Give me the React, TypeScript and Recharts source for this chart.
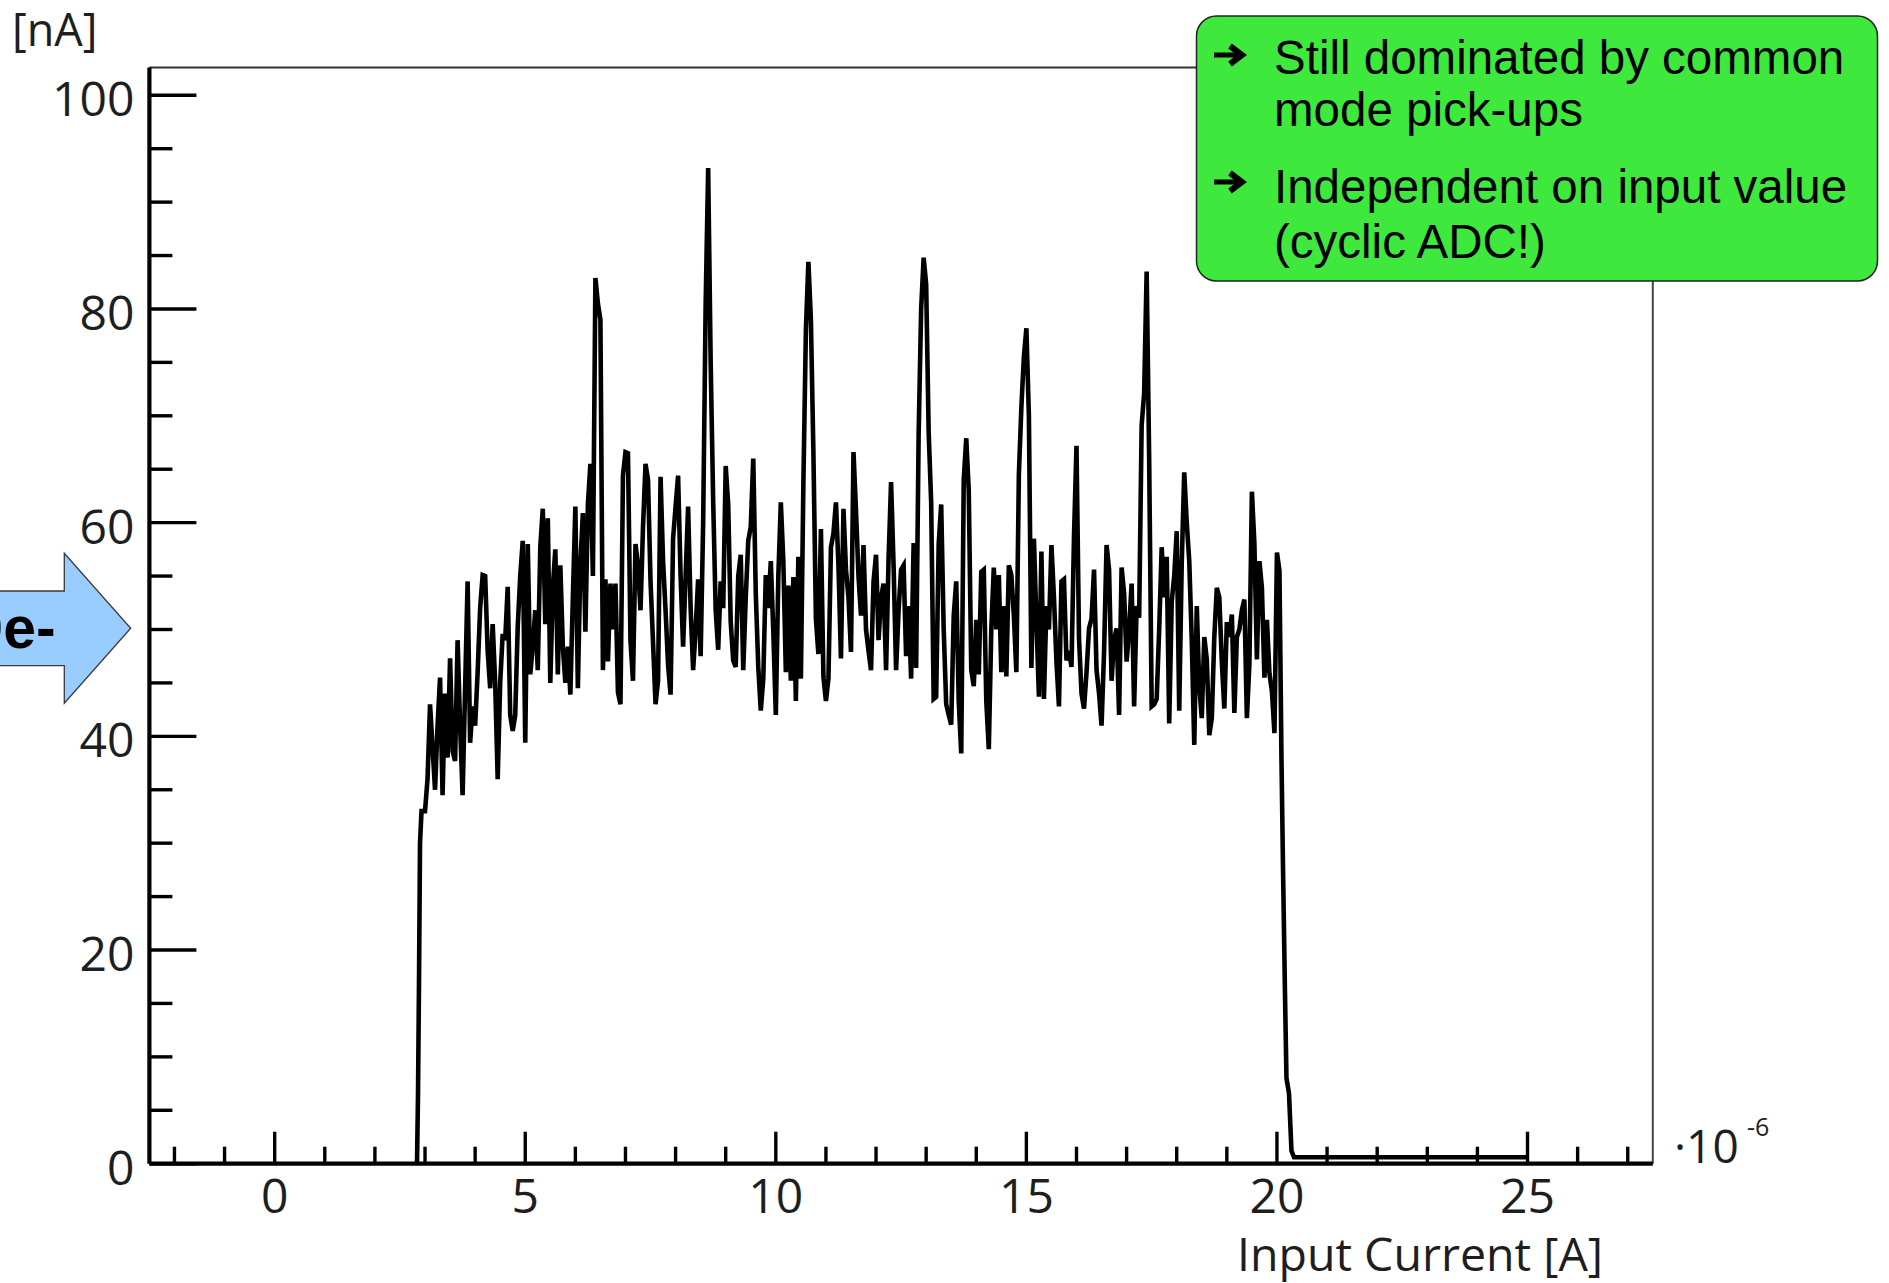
import React from 'react';
import { ComposedChart, Line, XAxis, YAxis, ReferenceLine } from 'recharts';

// Input current in units of 1e-6 A, noise in nA
const xDomain = [-2.5, 27.5];
const yDomain = [0, 102.6];
const xTicks = [-2, -1, 0, 1, 2, 3, 4, 5, 6, 7, 8, 9, 10, 11, 12, 13, 14, 15, 16, 17, 18, 19, 20, 21, 22, 23, 24, 25, 26, 27];
const yTicks = [0, 5, 10, 15, 20, 25, 30, 35, 40, 45, 50, 55, 60, 65, 70, 75, 80, 85, 90, 95, 100];

// rise at the start of the scan
const leadX = [2.84, 2.86, 2.88, 2.9, 2.93, 2.97];
const leadY = [0, 6.5, 17, 30, 33, 33];

// sampled trace, first sample at 3.00, one sample every 0.05
const noiseStart = 3.0;
const noiseStep = 0.05;

// 3.00 .. 8.45
const noiseA = [
  33, 36, 43, 39, 35, 41, 45.5, 34.5, 44, 38,
  47.3, 38.6, 37.7, 49, 41, 34.5, 44.5, 54.5, 39.4, 42.8,
  41, 46, 52, 55.1, 55, 48, 44.5, 50.5, 45, 36,
  45, 49.6, 49, 54, 42, 40.5, 42, 50.3, 55, 58.3,
  39.4, 58, 45.8, 48.4, 51.8, 46.2, 57.7, 61.3, 50.5, 60.4,
  45, 53.9, 57.5, 45.8, 56, 48.4, 45, 48.4, 43.9, 53,
  61.5, 44.5, 56.2, 60.9, 49.8, 61.7, 65.5, 55, 82.9, 80.5,
  79, 46.2, 54.7, 47, 54.3, 50, 54.3, 44.1, 43, 64.4,
  66.6, 66.5, 49, 45.2, 58, 56, 51.8, 59.6, 65.5, 64,
  54.5, 48.8, 43, 45.2, 64.3, 56.4, 51.8, 46.7, 43.9, 58.5,
  61.5, 64.4, 55, 48.4, 55, 61.5, 52, 46.2, 50, 54.7,
];

// 8.50 .. 14.35
const noiseB = [
  47.5, 60, 80.5, 93.2, 75, 62, 51.8, 48.1, 54.5, 52,
  65.3, 61.7, 50.7, 47.1, 46.5, 55, 57, 46.2, 53, 58.3,
  59.6, 66, 53.4, 46.5, 42.4, 45.4, 55.1, 52, 56.4, 49.8,
  42, 55, 61.9, 56.4, 46, 54.1, 45.2, 54.9, 43.3, 56.8,
  45.4, 63.6, 78, 84.4, 79, 66.6, 51, 47.7, 59.4, 45.6,
  43.3, 45.4, 57.7, 59, 61.9, 56, 47.3, 61.3, 55.6, 53,
  47.9, 66.6, 61.1, 55, 51.3, 57.9, 50, 48, 46.2, 54.5,
  57, 49, 53, 54.3, 46.2, 56.6, 63.8, 56, 46.2, 51.8,
  55.6, 56, 47.5, 52.2, 45.4, 58.1, 46.4, 68.3, 80, 84.8,
  82.3, 68.5, 61.9, 43.5, 43.7, 58, 61.7, 50, 43, 42,
  41.1, 51.3, 54.5, 43.3, 38.4, 64, 67.9, 63, 46.2, 44.7,
  50.9, 45.8, 55.4, 55.6, 43.3, 38.8, 50, 55.8,
];

// 14.40 .. 20.05
const noiseC = [
  50, 55.1, 46, 52.2, 45.6, 56, 55.1, 51.3, 46, 64.5,
  70.8, 75.5, 78.2, 70, 46.4, 58.5, 50.9, 43.7, 57.3, 43.5,
  52.2, 50, 57.9, 53, 47, 42.8, 54.5, 54.7, 47.1, 48,
  46.5, 58.7, 67.2, 49.2, 44, 42.6, 46, 50.1, 51, 55.6,
  46.2, 44, 41, 47.9, 57.9, 55.6, 45.2, 49, 50.1, 42,
  55.8, 53.4, 47, 50, 54.3, 42.8, 52.2, 51.1, 69.1, 72.1,
  83.5, 66, 42.8, 43, 43.5, 50, 57.7, 53, 56.8, 41.2,
  52.6, 55, 59.2, 42.4, 56.2, 64.7, 60, 56.4, 49, 39.2,
  52.2, 44.7, 41.7, 49.3, 47.2, 40.1, 41.7, 49.3, 53.9, 53,
  47, 42.6, 50.7, 49.3, 51.4, 42.2, 49.3, 50, 51.8, 52.8,
  41.7, 46.8, 62.9, 58, 47.2, 56.4, 53.9, 45.5, 50.9, 45.9,
  44.2, 40.3, 57.2, 55.5,
];

// fall at the end and the flat part after it
const tailX = [20.09, 20.12, 20.16, 20.19, 20.24, 20.29, 20.34, 25.0];
const tailY = [38, 28, 16, 8, 6.6, 1.2, 0.6, 0.6];

const noise = [...noiseA, ...noiseB, ...noiseC];
const data = [
  ...leadX.map((x, i) => ({ x, y: leadY[i] })),
  ...noise.map((y, i) => ({ x: +(noiseStart + i * noiseStep).toFixed(2), y })),
  ...tailX.map((x, i) => ({ x, y: tailY[i] })),
];

const labelFont = '"Open Sans", "DejaVu Sans", sans-serif';
const boxFont = '"Liberation Sans", Arial, sans-serif';

const XTick = (props: any) => {
  const { x, y, payload } = props;
  const v = payload.value;
  const major = v % 5 === 0;
  return (
    <g>
      <line x1={x} x2={x} y1={y} y2={y - (major ? 32 : 17)} stroke="#000" strokeWidth={3.4} />
      {major && (
        <text x={x} y={y + 49} textAnchor="middle" fontFamily={labelFont} fontSize={48} fill="#1e1e1e">
          {v}
        </text>
      )}
    </g>
  );
};

const YTick = (props: any) => {
  const { x, y, payload } = props;
  const v = payload.value;
  const major = v % 20 === 0;
  return (
    <g>
      <line x1={x} x2={x + (major ? 47 : 23)} y1={y} y2={y} stroke="#000" strokeWidth={3.4} />
      {major && (
        <text x={x - 15} y={y + 21} textAnchor="end" fontFamily={labelFont} fontSize={48} fill="#1e1e1e">
          {v}
        </text>
      )}
    </g>
  );
};

// bold right-arrow bullet, centred at (cx, cy)
const Bullet = ({ cx, cy }: { cx: number; cy: number }) => (
  <g stroke="#000" fill="none" strokeLinecap="butt">
    <line x1={cx - 15} y1={cy} x2={cx + 10} y2={cy} strokeWidth={5} />
    <polyline points={`${cx + 1},${cy - 9} ${cx + 13},${cy} ${cx + 1},${cy + 9}`} strokeWidth={6} strokeLinejoin="miter" />
  </g>
);

export default function App() {
  return (
    <div style={{ position: 'absolute', left: 0, top: 0, width: 1889, height: 1283, background: '#fff' }}>
      <ComposedChart
        width={1889}
        height={1283}
        data={data}
        margin={{ top: 67.5, right: 236.2, bottom: 59.3, left: 49.4 }}
      >
        <XAxis
          dataKey="x"
          type="number"
          domain={xDomain}
          ticks={xTicks}
          interval={0}
          allowDataOverflow
          height={60}
          tickSize={0}
          tickMargin={0}
          tickLine={false}
          tick={XTick}
          axisLine={{ stroke: '#000', strokeWidth: 4.2 }}
        />
        <YAxis
          type="number"
          domain={yDomain}
          ticks={yTicks}
          interval={0}
          allowDataOverflow
          width={100}
          tickSize={0}
          tickMargin={0}
          tickLine={false}
          tick={YTick}
          axisLine={{ stroke: '#000', strokeWidth: 4.2 }}
        />
        <ReferenceLine y={102.6} stroke="#333" strokeWidth={2} />
        <ReferenceLine x={27.5} stroke="#444" strokeWidth={2} />
        <Line
          type="linear"
          dataKey="y"
          stroke="#000"
          strokeWidth={4.6}
          dot={false}
          isAnimationActive={false}
        />
      </ComposedChart>

      <svg width={1889} height={1283} style={{ position: 'absolute', left: 0, top: 0, pointerEvents: 'none' }}>
        {/* axis titles */}
        <text x={12} y={46} fontFamily={labelFont} fontSize={45} fill="#1e1e1e">[nA]</text>
        <text
          x={1237}
          y={1271}
          fontFamily={labelFont}
          fontSize={46}
          fill="#1e1e1e"
          textLength={366}
          lengthAdjust="spacingAndGlyphs"
        >
          Input Current [A]
        </text>
        <text x={1674} y={1163} fontFamily={labelFont} fontSize={46} fill="#1e1e1e">·10</text>
        <text x={1747} y={1136} fontFamily={labelFont} fontSize={25} fill="#1e1e1e">-6</text>

        {/* blue arrow on the left */}
        <path
          d="M -5 591 L 64.3 591 L 64.3 553.3 L 130.7 628.3 L 64.3 703.3 L 64.3 665.7 L -5 665.7 Z"
          fill="#99ccff"
          stroke="#3a3a3a"
          strokeWidth={1.3}
        />
        <text x={55.6} y={648} textAnchor="end" fontFamily={boxFont} fontWeight="bold" fontSize={59} fill="#000">
          50e-
        </text>

        {/* green note box */}
        <rect x={1196.5} y={16} width={681} height={265} rx={20} ry={20} fill="#3ee83c" stroke="#222" strokeWidth={1.5} />
        <Bullet cx={1229} cy={55} />
        <Bullet cx={1229} cy={182} />
        <text x={1274} y={74} fontFamily={boxFont} fontSize={47.5} fill="#000">Still dominated by common</text>
        <text x={1274} y={126} fontFamily={boxFont} fontSize={47.5} fill="#000">mode pick-ups</text>
        <text x={1274} y={203} fontFamily={boxFont} fontSize={47.5} fill="#000">Independent on input value</text>
        <text x={1274} y={258} fontFamily={boxFont} fontSize={47.5} fill="#000">(cyclic ADC!)</text>
      </svg>
    </div>
  );
}
